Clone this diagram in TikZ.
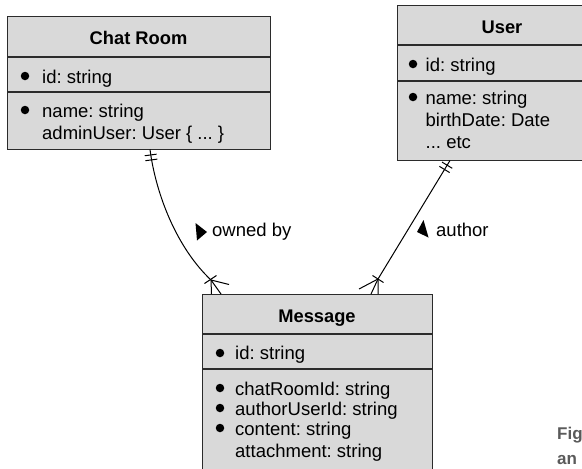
\documentclass[tikz,border=0pt]{standalone}
\usepackage{fontspec}
\setmainfont{Liberation Sans}
\usetikzlibrary{calc}
\definecolor{boxfill}{HTML}{D9D9D9}
\definecolor{boxline}{HTML}{2B2B2B}
\definecolor{figgray}{HTML}{5A5A5A}
\frenchspacing
\begin{document}
\frenchspacing
\begin{tikzpicture}[x=1pt,y=-1pt,
  box/.style={draw=boxline, fill=boxfill, line width=1.3pt, inner sep=0pt, anchor=north west},
  sep/.style={draw=boxline, line width=1.3pt},
  ttl/.style={font=\fontsize{18.3}{21}\selectfont\bfseries, inner sep=0pt, anchor=base},
  attr/.style={font=\fontsize{18.5}{21}\selectfont, inner sep=0pt, anchor=base west},
  dot/.style={circle, fill=black, inner sep=0pt, minimum size=8.5pt},
  conn/.style={line width=1pt, draw=black},
  lbl/.style={font=\fontsize{18.5}{21}\selectfont, inner sep=0pt, anchor=base west},
  figtxt/.style={font=\fontsize{17}{20}\selectfont\bfseries, text=figgray, inner sep=0pt, anchor=base west}]
\useasboundingbox (0,0) rectangle (582,469);

% ---------- Chat Room ----------
\node[box, minimum width=263pt, minimum height=133pt] (chat) at (7,16) {};
\draw[sep] (7,57) -- (270,57);
\draw[sep] (7,92) -- (270,92);
\node[ttl] (chatT) at (138.5,44) {Chat Room};
\node[dot] (chatD1) at (25,76) {};
\node[attr] (chatA1) at (42,83) {id: string};
\node[dot] (chatD2) at (25,110) {};
\node[attr] (chatA2) at (42,117) {name: string};
\node[attr] (chatA3) at (42,139) {adminUser: User \symbol{123} ... \symbol{125}};

% ---------- User ----------
\node[box, minimum width=213pt, minimum height=155pt] (user) at (397,5) {};
\draw[sep] (397,45) -- (610,45);
\draw[sep] (397,81) -- (610,81);
\node[ttl] (userT) at (502,33) {User};
\node[dot] (userD1) at (413,64) {};
\node[attr] (userA1) at (425.5,71) {id: string};
\node[dot] (userD2) at (413,97) {};
\node[attr] (userA2) at (425.5,104) {name: string};
\node[attr] (userA3) at (425.5,126) {birthDate: Date};
\node[attr] (userA4) at (425.5,148) {... etc};

% ---------- Message ----------
\node[box, minimum width=230pt, minimum height=200pt] (msg) at (202,294) {};
\draw[sep] (202,334) -- (432,334);
\draw[sep] (202,369) -- (432,369);
\node[ttl] (msgT) at (317,322) {Message};
\node[dot] (msgD1) at (220,353) {};
\node[attr] (msgA1) at (235,359) {id: string};
\node[dot] (msgD2) at (220,388) {};
\node[attr] (msgA2) at (235,395) {chatRoomId: string};
\node[dot] (msgD3) at (220,408) {};
\node[attr] (msgA3) at (235,415) {authorUserId: string};
\node[dot] (msgD4) at (220,428) {};
\node[attr] (msgA4) at (235,435) {content: string};
\node[attr] (msgA5) at (235,457) {attachment: string};

% ---------- owned by connector ----------
\coordinate (cs) at (150,149.5);
\coordinate (cc1) at (156,195);
\coordinate (cc2) at (177,248);
\coordinate (ce) at (211,280);
\coordinate (cm) at (211.5,294);
\draw[conn] (cs) .. controls (cc1) and (cc2) .. (ce) -- (cm);
\coordinate (ct1) at ($(cs)!5.5pt!(cc1)$);
\coordinate (ct2) at ($(cs)!10.5pt!(cc1)$);
\draw[conn] ($(ct1)!6pt!90:(cc1)$) -- ($(ct1)!6pt!-90:(cc1)$);
\draw[conn] ($(ct2)!6pt!90:(cc1)$) -- ($(ct2)!6pt!-90:(cc1)$);
\coordinate (cb1) at (204.5,283.5);
\coordinate (cb2) at (216.5,275.5);
\coordinate (cp1) at (229,284.5);
\coordinate (cp2) at (221,294);
\draw[conn] (cb1) -- (cb2);
\draw[conn] (ce) -- (cp1);
\draw[conn] (ce) -- (cp2);

% ---------- author connector ----------
\coordinate (us) at (450,160.5);
\coordinate (ue) at (378,279);
\coordinate (um) at (378,294);
\draw[conn] (us) -- (ue) -- (um);
\coordinate (ut1) at ($(us)!5.5pt!(ue)$);
\coordinate (ut2) at ($(us)!10.5pt!(ue)$);
\draw[conn] ($(ut1)!6pt!90:(ue)$) -- ($(ut1)!6pt!-90:(ue)$);
\draw[conn] ($(ut2)!6pt!90:(ue)$) -- ($(ut2)!6pt!-90:(ue)$);
\coordinate (ub1) at (372.5,275.5);
\coordinate (ub2) at (383.5,282.5);
\coordinate (up1) at (359,289);
\coordinate (up2) at (371,294);
\draw[conn] (ub1) -- (ub2);
\draw[conn] (ue) -- (up1);
\draw[conn] (ue) -- (up2);

% ---------- labels ----------
\fill (195.5,223) -- (207,232) -- (197,240.5) -- cycle;
\node[lbl] (owned) at (212,236) {owned by};
\fill (423.5,220) -- (417,232) -- (428.5,237.5) -- cycle;
\node[lbl] (auth) at (436,236) {author};

% ---------- cropped caption ----------
\node[figtxt] (fig1) at (557,439) {Fig};
\node[figtxt] (fig2) at (557,464) {an};
\end{tikzpicture}
\end{document}
